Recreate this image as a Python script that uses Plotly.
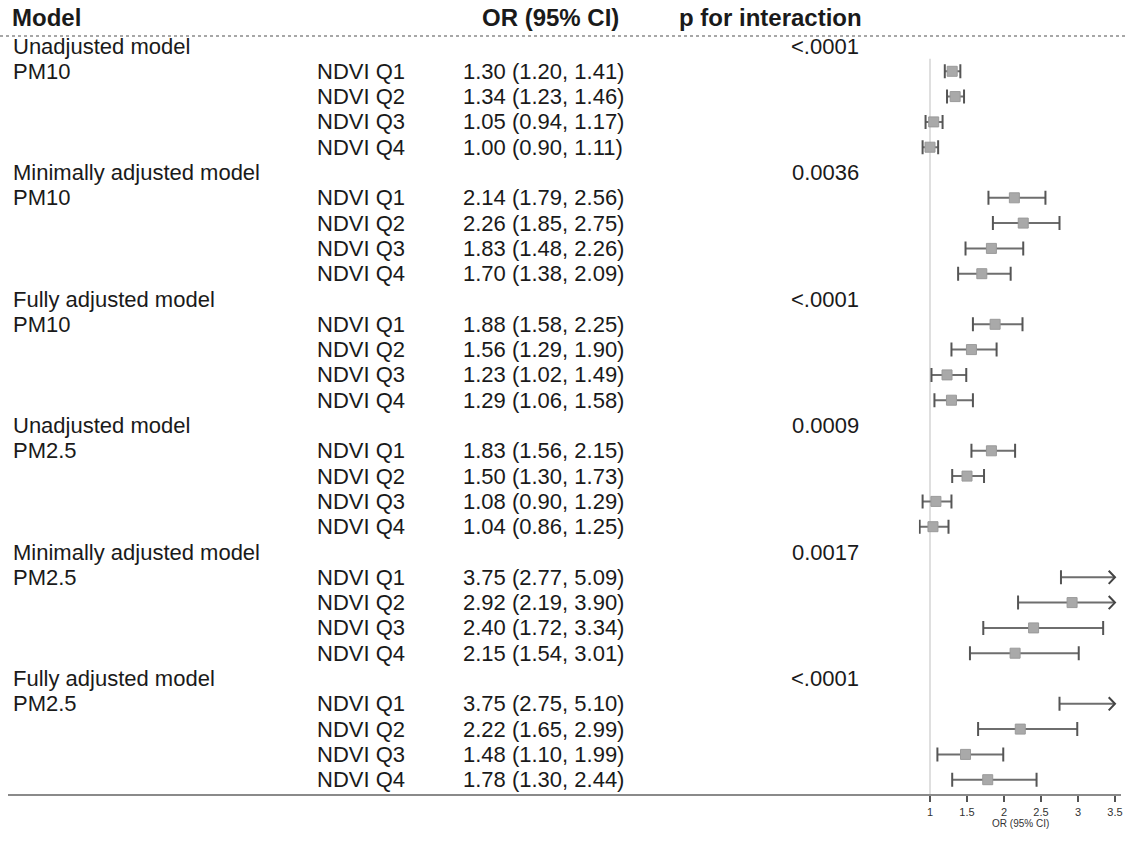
import plotly.graph_objects as go

# ---------------- data ----------------
models = ["Unadjusted model", "Minimally adjusted model", "Fully adjusted model",
          "Unadjusted model", "Minimally adjusted model", "Fully adjusted model"]
pollutants = ["PM10", "PM10", "PM10", "PM2.5", "PM2.5", "PM2.5"]
p_interaction = ["<.0001", "0.0036", "<.0001", "0.0009", "0.0017", "<.0001"]
quartiles = ["NDVI Q1", "NDVI Q2", "NDVI Q3", "NDVI Q4"]
or_est = [[1.30, 1.34, 1.05, 1.00],
          [2.14, 2.26, 1.83, 1.70],
          [1.88, 1.56, 1.23, 1.29],
          [1.83, 1.50, 1.08, 1.04],
          [3.75, 2.92, 2.40, 2.15],
          [3.75, 2.22, 1.48, 1.78]]
ci_lo = [[1.20, 1.23, 0.94, 0.90],
         [1.79, 1.85, 1.48, 1.38],
         [1.58, 1.29, 1.02, 1.06],
         [1.56, 1.30, 0.90, 0.86],
         [2.77, 2.19, 1.72, 1.54],
         [2.75, 1.65, 1.10, 1.30]]
ci_hi = [[1.41, 1.46, 1.17, 1.11],
         [2.56, 2.75, 2.26, 2.09],
         [2.25, 1.90, 1.49, 1.58],
         [2.15, 1.73, 1.29, 1.25],
         [5.09, 3.90, 3.34, 3.01],
         [5.10, 2.99, 1.99, 2.44]]
x_ticks = [1, 1.5, 2, 2.5, 3, 3.5]
x_tick_labels = ["1", "1.5", "2", "2.5", "3", "3.5"]
headers = ["Model", "OR (95% CI)", "p for interaction"]

# ---------------- layout constants ----------------
W, H = 1126, 841
X_MAX = 3.5
FONT = "Liberation Sans, Arial, sans-serif"
TXT = "#1a1a1a"
SZ = 22
HSZ = 24

def px(x):
    return x / W

def py(y):
    return 1 - y / H

fig = go.Figure()

seg_x, seg_y = [], []
cap_x, cap_y = [], []
box_x, box_y = [], []
arr_x, arr_y = [], []
annotations = []

def add_text(text, xpix, row, anchor="left", bold=False, size=SZ):
    annotations.append(dict(
        text=("<b>%s</b>" % text) if bold else text,
        x=px(xpix), xref="paper", y=row, yref="y",
        xanchor=anchor, yanchor="middle", showarrow=False,
        font=dict(family=FONT, size=size, color=TXT)))

# header
add_text(headers[0], 10, -0.12, bold=True, size=HSZ)
add_text(headers[1], 621, -0.12, anchor="right", bold=True, size=HSZ)
add_text(headers[2], 677, -0.12, bold=True, size=HSZ)

for g in range(len(models)):
    hrow = 1 + 5 * g
    add_text(models[g], 11, hrow)
    add_text(p_interaction[g], 861, hrow, anchor="right")
    for q in range(4):
        r = hrow + 1 + q
        if q == 0:
            add_text(pollutants[g], 11, r)
        add_text(quartiles[q], 315, r)
        add_text("%.2f (%.2f, %.2f)" % (or_est[g][q], ci_lo[g][q], ci_hi[g][q]), 461, r)
        lo, hi, est = ci_lo[g][q], ci_hi[g][q], or_est[g][q]
        hic = min(hi, X_MAX)
        seg_x += [lo, hic, None]
        seg_y += [r, r, None]
        cap_x.append(lo); cap_y.append(r)
        if hi <= X_MAX:
            cap_x.append(hi); cap_y.append(r)
        else:
            dx, dy = 0.085, 0.26
            arr_x += [X_MAX - dx, X_MAX, X_MAX - dx, None]
            arr_y += [r - dy, r, r + dy, None]
        if est <= X_MAX:
            box_x.append(est); box_y.append(r)

LINE_C = "#6e6e6e"
fig.add_trace(go.Scatter(x=seg_x, y=seg_y, mode="lines",
                         line=dict(color=LINE_C, width=2), hoverinfo="skip"))
fig.add_trace(go.Scatter(x=arr_x, y=arr_y, mode="lines",
                         line=dict(color="#444444", width=2), hoverinfo="skip"))
fig.add_trace(go.Scatter(x=cap_x, y=cap_y, mode="markers",
                         marker=dict(symbol="line-ns", size=10,
                                     line=dict(color="#555555", width=2)),
                         hoverinfo="skip"))
fig.add_trace(go.Scatter(x=box_x, y=box_y, mode="markers",
                         marker=dict(symbol="square", size=10, color="#a9a9a9",
                                     line=dict(color="#9a9a9a", width=1)),
                         hoverinfo="skip"))

# geometry of the plot area
row1_px, pitch = 46.0, 25.3
bottom_px = 795.0
y_bottom = 1 + (bottom_px - row1_px) / pitch
y_top = 1 + (0 - row1_px) / pitch
x_lo_range = 0.85
x_hi_range = 3.6
unit_px = 74.0
d0 = (930 - (1 - x_lo_range) * unit_px) / W
d1 = (930 + (x_hi_range - 1) * unit_px) / W

shapes = [
    # reference line at OR = 1
    dict(type="line", xref="x", yref="y", x0=1, x1=1, y0=1.5, y1=y_bottom,
         line=dict(color="#d4d4d4", width=1.5), layer="below"),
    # dotted rule under header
    dict(type="line", xref="paper", yref="paper", x0=0, x1=1, y0=py(36), y1=py(36),
         line=dict(color="#8a8a8a", width=1.5, dash="dot")),
    # bottom solid rule
    dict(type="line", xref="paper", yref="paper", x0=px(8), x1=px(1121),
         y0=py(bottom_px), y1=py(bottom_px),
         line=dict(color="#8a8a8a", width=2)),
]

fig.update_layout(
    width=W, height=H,
    margin=dict(l=0, r=0, t=0, b=0),
    paper_bgcolor="white", plot_bgcolor="white",
    showlegend=False,
    annotations=annotations,
    shapes=shapes,
    xaxis=dict(domain=[d0, d1], range=[x_lo_range, x_hi_range],
               tickvals=x_ticks, ticktext=x_tick_labels,
               ticks="outside", ticklen=6, tickwidth=1.5, tickcolor="#555555",
               showgrid=False, zeroline=False, showline=False,
               tickfont=dict(family=FONT, size=11, color="#333333"),
               ticklabelstandoff=1,
               title=dict(text="OR (95% CI)", standoff=1,
                          font=dict(family=FONT, size=10, color="#333333"))),
    yaxis=dict(domain=[1 - bottom_px / H, 1], range=[y_bottom, y_top],
               showgrid=False, zeroline=False, showline=False,
               showticklabels=False, ticks=""),
)

fig.write_html("out.html", config={"displayModeBar": False},
               post_script="document.body.style.margin='0';document.body.style.overflow='hidden';")
